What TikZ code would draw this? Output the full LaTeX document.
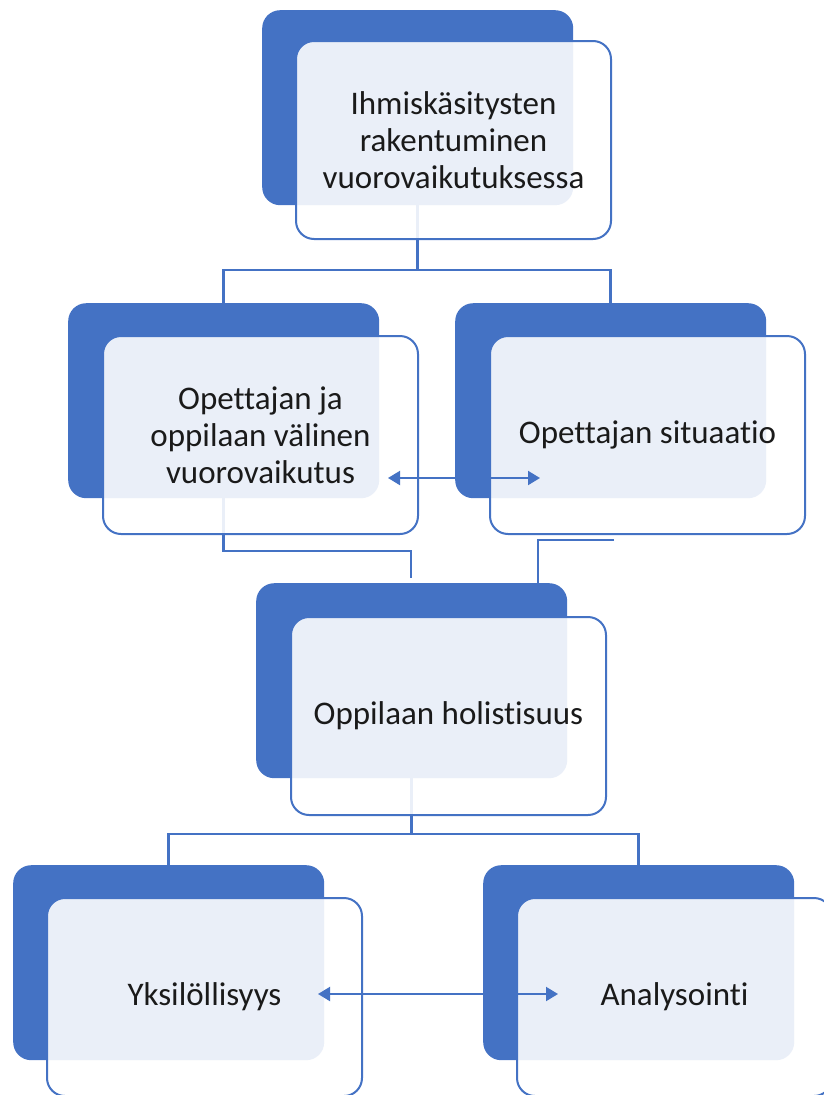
\documentclass[tikz,border=0pt]{standalone}
\usepackage{fontspec}
\setmainfont[Ligatures=NoCommon]{Carlito}
\usetikzlibrary{arrows.meta}
\definecolor{accent}{HTML}{4472C4}
\definecolor{ink}{HTML}{1A1A1A}
\tikzset{
  darkbox/.style={draw=none, fill=accent, rounded corners=18pt, minimum width=311pt, minimum height=195pt, anchor=north west, inner sep=0pt},
  lightbox/.style={draw=accent, line width=2pt, fill=white, fill opacity=0.89, text opacity=1, rounded corners=18pt, minimum width=315pt, minimum height=198pt, anchor=north west, align=center, text=ink, font=\fontsize{33}{37}\selectfont, inner sep=0pt},
  link/.style={draw=accent, line width=2.5pt},
  twoway/.style={draw=accent, line width=2pt, {Triangle[length=12pt,width=14pt]}-{Triangle[length=12pt,width=14pt]}}
}
\begin{document}
\begin{tikzpicture}[x=1pt,y=-1pt]
\useasboundingbox (0,0) rectangle (824,1095);
\begin{scope}
\clip (0,0) rectangle (824,1095);
% dark back boxes
\node[darkbox] (d1) at (262,10) {};
\node[darkbox] (d2) at (68,303) {};
\node[darkbox] (d3) at (455,303) {};
\node[darkbox] (d4) at (256,583) {};
\node[darkbox] (d5) at (13,865) {};
\node[darkbox] (d6) at (483,865) {};
% connectors
\coordinate (j1) at (d1.south |- 0,270);
\draw[link] (d1.south) -- (j1);
\draw[link] (d2.north) |- (j1) -| (d3.north);
\draw[link] (d2.south) |- (411,551) -- (411,578);
\coordinate (s3) at (614,540);
\draw[link] (s3) -| (d4.north -| 538,0);
\coordinate (j4) at (d4.south |- 0,834);
\draw[link] (d4.south) -- (j4);
\draw[link] (d5.north) |- (j4) -| (d6.north);
% front boxes
\node[lightbox] (l1) at (295,40) {Ihmiskäsitysten\\rakentuminen\\vuorovaikutuksessa};
\node[lightbox] (l2) at (102,335) {Opettajan ja\\oppilaan välinen\\vuorovaikutus};
\node[lightbox] (l3) at (489,335) {Opettajan situaatio};
\node[lightbox] (l4) at (290,616) {Oppilaan holistisuus};
\node[lightbox] (l5) at (46,897) {Yksilöllisyys};
\node[lightbox] (l6) at (516,897) {Analysointi};
% two-way arrows
\coordinate (a2) at (388,478);
\coordinate (a3) at (540,478);
\draw[twoway] (a2) -- (a3);
\coordinate (a5) at (318,994);
\coordinate (a6) at (558,994);
\draw[twoway] (a5) -- (a6);
\end{scope}
\end{tikzpicture}
\end{document}
